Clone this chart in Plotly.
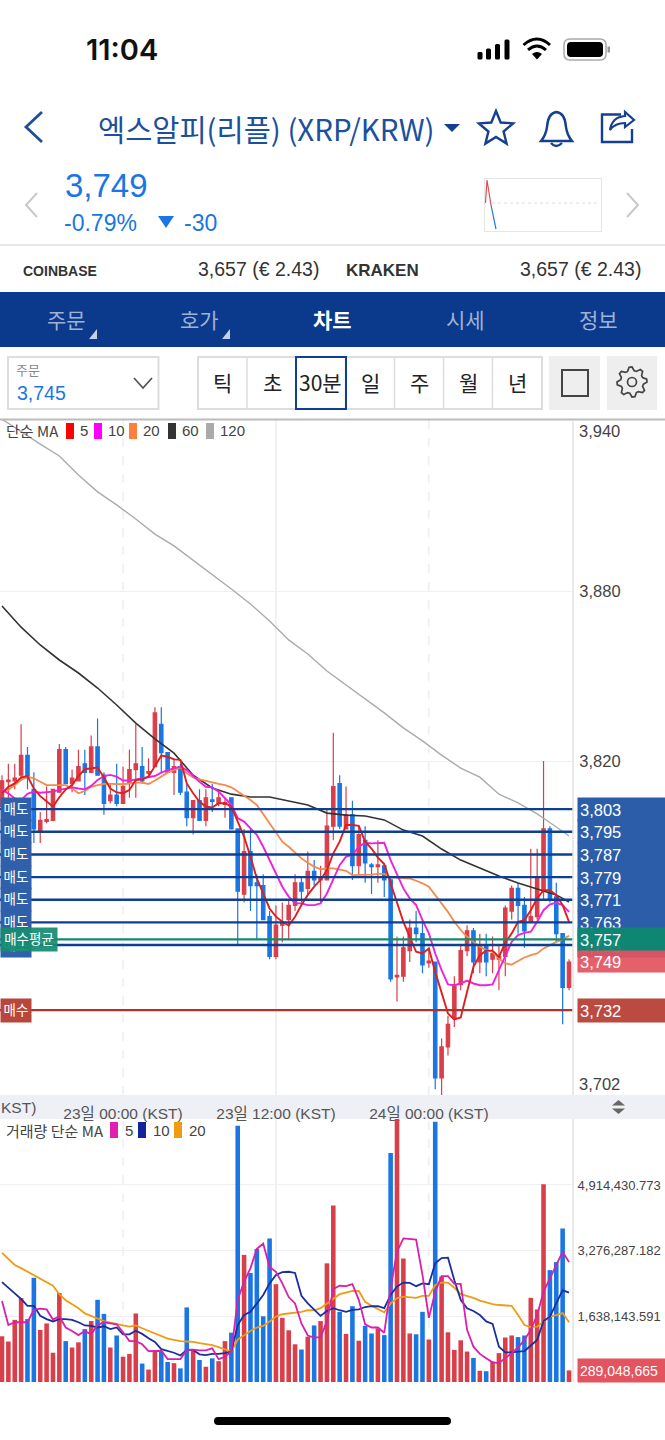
"""Upbit-style XRP/KRW mobile chart screen: 30 minute candles and volume."""

import numpy as np
import plotly.graph_objects as go

W, H = 665, 1440
PLOT_R = 573  # right edge of the plot panels, px
SANS = "Liberation Sans, Noto Sans CJK KR"
KR = "Noto Sans CJK KR, Liberation Sans"

RED = "#d93f4a"
BLUE = "#1a76e3"
NAVY = "#0f3f90"

# --- candles, one per 30 minutes ---
opens = [
    3804, 3812.7, 3813, 3815, 3822, 3810, 3795, 3798.7, 3799, 3809,
    3824, 3812, 3813, 3819, 3816, 3825, 3815, 3806, 3808, 3805,
    3812, 3817, 3818, 3815.7, 3818, 3833, 3823, 3816, 3818, 3809,
    3800, 3806, 3799, 3806.3, 3805, 3804.7, 3807, 3796, 3773, 3788,
    3777, 3776, 3765, 3751, 3762, 3764, 3769, 3777, 3775, 3781,
    3778, 3778, 3797, 3812, 3796, 3801, 3783, 3792, 3783.3, 3782.7,
    3783, 3778, 3743.7, 3744, 3753, 3761, 3759, 3748.7, 3749, 3708,
    3719, 3729, 3741, 3753, 3760, 3749, 3755, 3750, 3750, 3751,
    3767, 3775, 3769, 3763, 3765, 3774, 3796, 3772, 3759, 3740,
]
highs = [
    3815, 3819, 3819, 3833, 3825, 3816, 3802, 3811, 3810, 3826,
    3825, 3817, 3824, 3824, 3829, 3835, 3816, 3812, 3819, 3818,
    3824, 3833, 3825, 3821, 3839, 3839, 3823, 3821, 3819, 3812,
    3806, 3810, 3810, 3812, 3809, 3807, 3807, 3796, 3796, 3796,
    3780, 3780, 3767, 3769, 3770, 3771, 3780, 3779, 3788, 3785,
    3783, 3803, 3830, 3815, 3811, 3806, 3797, 3797, 3784, 3792,
    3784, 3779, 3758, 3758, 3764, 3767, 3764, 3754, 3749, 3722,
    3730, 3744, 3755, 3762, 3761, 3759, 3759, 3758, 3755, 3769,
    3776, 3777, 3772, 3789, 3789, 3820, 3797, 3777, 3759, 3750,
]
lows = [
    3804, 3807, 3810, 3813, 3810, 3791, 3791, 3798, 3799, 3809,
    3812, 3809, 3813, 3808, 3816, 3815, 3801, 3805, 3804, 3805,
    3807, 3807, 3812, 3814, 3818, 3816, 3816, 3808, 3808, 3797,
    3794, 3799, 3797, 3802, 3804, 3800, 3796, 3755, 3770, 3767,
    3757, 3764, 3750, 3750, 3756, 3757, 3767, 3770, 3773, 3776,
    3770, 3778, 3792, 3796, 3796, 3778, 3780, 3777, 3773, 3777,
    3772, 3742, 3735, 3742, 3749, 3756, 3745, 3747, 3704, 3702,
    3716, 3726, 3739, 3751, 3745, 3745, 3744, 3745, 3739, 3744,
    3764, 3759, 3754, 3763, 3764, 3771, 3770, 3756, 3727, 3739,
]
closes = [
    3813, 3813.3, 3814, 3822, 3814, 3796, 3799, 3799.3, 3810, 3824,
    3812, 3814, 3818, 3816, 3825, 3815, 3805, 3808, 3805, 3811,
    3817, 3819, 3813, 3816.3, 3837, 3823, 3816, 3818, 3809, 3800,
    3806, 3799, 3807, 3805.7, 3807, 3805.3, 3796, 3774, 3788, 3776,
    3776, 3764, 3751, 3762, 3763, 3769, 3777, 3774, 3781, 3778,
    3779, 3797, 3811, 3797, 3801, 3783, 3794, 3784, 3782.7, 3783.3,
    3778, 3743, 3744.3, 3754, 3761, 3759, 3748, 3749.3, 3708, 3719,
    3727, 3741, 3753, 3760, 3749, 3755, 3749, 3752, 3751, 3768,
    3775, 3769, 3760, 3765, 3779, 3796, 3771, 3759, 3740, 3749,
]

# --- price moving averages ---
ma5 = [
    3808.6, 3810.9, 3812.1, 3814.2, 3814.7, 3810.3, 3807.6, 3805.6, 3803.9, 3807.2,
    3810.0, 3811.5, 3814.7, 3817.1, 3817.4, 3817.7, 3814.2, 3810.3, 3808.9, 3808.6,
    3809.8, 3813.3, 3813.5, 3814.5, 3818.2, 3821.9, 3821.5, 3820.6, 3820.4, 3812.1,
    3808.6, 3805.6, 3803.9, 3803.6, 3805.1, 3805.1, 3803.9, 3798.6, 3793.3, 3786.2,
    3778.5, 3773.2, 3767.9, 3765.0, 3763.2, 3761.9, 3765.0, 3769.1, 3772.7, 3775.6,
    3778.0, 3781.5, 3787.4, 3791.5, 3797.4, 3797.4, 3797.1, 3791.5, 3789.1, 3785.9,
    3783.6, 3776.8, 3769.7, 3763.2, 3757.9, 3752.6, 3752.0, 3753.8, 3745.5, 3738.5,
    3730.8, 3728.7, 3729.4, 3738.5, 3747.3, 3751.4, 3753.0, 3753.0, 3750.8, 3755.8,
    3759.1, 3763.2, 3763.8, 3767.3, 3771.5, 3774.4, 3774.4, 3772.6, 3769.1, 3763.2,
]
ma10 = [
    3809.8, 3808.6, 3806.8, 3806.2, 3808.4, 3809.2, 3808.8, 3809.1, 3809.2, 3809.8,
    3810.3, 3810.7, 3810.3, 3810.0, 3811.2, 3813.3, 3814.7, 3815.1, 3814.5, 3813.1,
    3813.1, 3813.5, 3813.8, 3814.2, 3814.7, 3815.9, 3816.8, 3817.4, 3818.0, 3816.8,
    3814.7, 3812.7, 3810.9, 3810.7, 3809.2, 3806.8, 3804.5, 3799.8, 3798.6, 3796.2,
    3793.9, 3789.7, 3785.0, 3779.7, 3775.6, 3772.1, 3769.7, 3769.7, 3769.1, 3769.1,
    3769.7, 3773.2, 3777.9, 3783.2, 3786.2, 3786.8, 3789.7, 3791.1, 3790.9, 3791.1,
    3791.1, 3785.0, 3780.3, 3775.0, 3771.5, 3769.1, 3763.8, 3759.1, 3752.0, 3746.1,
    3741.1, 3740.8, 3741.4, 3742.4, 3741.4, 3740.8, 3740.8, 3741.1, 3746.1, 3750.8,
    3756.1, 3758.5, 3759.3, 3759.7, 3763.2, 3767.3, 3769.4, 3769.9, 3769.1, 3766.7,
]
ma20 = [
    3809.8, 3809.8, 3811.5, 3813.3, 3814.5, 3813.9, 3812.7, 3811.5, 3811.5, 3811.5,
    3811.5, 3810.3, 3808.6, 3809.4, 3810.9, 3811.5, 3811.9, 3811.9, 3811.9, 3811.8,
    3812.1, 3812.4, 3812.4, 3811.9, 3813.1, 3814.5, 3815.9, 3816.8, 3817.8, 3815.7,
    3814.2, 3813.5, 3813.1, 3812.5, 3811.9, 3811.5, 3810.7, 3809.2, 3808.0, 3806.2,
    3804.5, 3801.3, 3798.0, 3794.5, 3791.5, 3789.7, 3787.7, 3785.6, 3784.1, 3782.7,
    3781.7, 3782.1, 3782.1, 3781.7, 3781.2, 3779.7, 3779.7, 3779.7, 3779.9, 3780.1,
    3780.1, 3778.9, 3778.8, 3778.8, 3778.5, 3777.7, 3776.8, 3775.6, 3772.6, 3769.7,
    3766.7, 3763.2, 3760.3, 3757.9, 3756.1, 3754.4, 3753.2, 3752.6, 3750.2, 3748.5,
    3748.1, 3749.4, 3750.6, 3751.4, 3752.0, 3753.8, 3755.0, 3756.1, 3757.0, 3758.3,
]
# the long averages are read every third candle
long_ma_idx = list(range(0, 88, 3)) + [89]
ma60 = [
    3874.8, 3867.3, 3861.0, 3855.7, 3851.1, 3845.8, 3839.8, 3833.4, 3827.8, 3822.8,
    3815.0, 3810.5, 3808.3, 3807.3, 3807.3, 3805.9, 3804.5, 3801.6, 3800.9, 3800.6,
    3799.2, 3795.6, 3793.5, 3788.9, 3785.0, 3782.2, 3779.4, 3776.9, 3774.8, 3772.7,
    3770.2,
]
ma120 = [
    3940.8, 3936.3, 3932.0, 3927.8, 3921.1, 3915.1, 3910.5, 3905.5, 3900.2, 3896.0,
    3891.0, 3886.1, 3880.8, 3875.5, 3869.5, 3862.8, 3857.8, 3851.8, 3846.9, 3841.9,
    3837.0, 3831.7, 3827.1, 3822.1, 3817.5, 3814.3, 3808.3, 3805.2, 3801.3, 3796.7,
    3793.5,
]

# --- volume, billions ---
volume = [
    1.14, 1.01, 1.55, 2.09, 1.57, 2.60, 1.30, 1.46, 0.73, 2.22,
    1.02, 0.86, 0.99, 1.32, 1.52, 2.05, 1.70, 0.86, 1.16, 0.63,
    0.70, 1.71, 0.46, 0.31, 0.77, 0.76, 0.50, 0.47, 0.34, 1.86,
    0.80, 0.55, 0.38, 0.59, 0.52, 1.02, 1.23, 6.39, 3.17, 2.72,
    3.32, 1.64, 3.58, 2.44, 1.60, 1.29, 0.94, 0.81, 1.13, 1.41,
    1.52, 2.96, 4.40, 1.75, 1.20, 1.89, 1.03, 1.40, 1.21, 1.34,
    1.17, 5.71, 6.80, 3.08, 1.21, 1.19, 1.75, 1.06, 6.49, 2.63,
    1.24, 0.80, 1.04, 0.76, 0.60, 0.28, 0.27, 0.51, 0.72, 1.11,
    1.16, 1.12, 1.16, 2.10, 1.81, 4.93, 2.79, 2.99, 3.83, 0.289,
]
vol_up = [
    1, 1, 1, 1, 0, 0, 1, 1, 1, 1,
    0, 1, 1, 0, 1, 0, 0, 1, 0, 1,
    1, 1, 0, 1, 1, 0, 0, 1, 0, 0,
    1, 0, 1, 0, 1, 1, 0, 0, 1, 0,
    0, 0, 0, 1, 1, 1, 1, 0, 1, 0,
    1, 1, 1, 0, 1, 0, 1, 0, 0, 1,
    0, 0, 1, 1, 1, 0, 0, 1, 0, 1,
    1, 1, 1, 1, 0, 1, 0, 1, 1, 1,
    1, 0, 0, 1, 1, 1, 0, 0, 0, 1,
]
vol_ma5 = [
    2.02, 1.42, 1.49, 1.49, 1.49, 1.80, 1.83, 1.81, 1.56, 1.64,
    1.36, 1.27, 1.17, 1.27, 1.19, 1.42, 1.49, 1.46, 1.44, 1.24,
    1.02, 1.02, 0.94, 0.77, 0.78, 0.78, 0.57, 0.57, 0.57, 0.80,
    0.81, 0.79, 0.79, 0.84, 0.57, 0.63, 0.76, 2.05, 2.50, 2.84,
    3.32, 3.45, 2.87, 2.75, 2.46, 2.12, 1.96, 1.46, 1.16, 1.11,
    1.12, 1.51, 2.32, 2.40, 2.39, 2.44, 2.05, 1.44, 1.36, 1.36,
    1.23, 2.34, 3.25, 3.58, 3.56, 3.55, 2.67, 1.60, 2.25, 2.64,
    2.64, 2.45, 2.45, 1.30, 0.88, 0.70, 0.59, 0.49, 0.47, 0.59,
    0.72, 0.86, 1.05, 1.30, 1.67, 2.25, 2.59, 2.92, 3.25, 2.99,
]
vol_ma10 = [
    2.49, 2.34, 2.21, 2.07, 1.90, 1.90, 1.65, 1.57, 1.51, 1.57,
    1.57, 1.55, 1.49, 1.41, 1.40, 1.36, 1.39, 1.32, 1.36, 1.19,
    1.19, 1.28, 1.20, 1.09, 1.00, 0.82, 0.77, 0.73, 0.66, 0.80,
    0.80, 0.69, 0.67, 0.70, 0.70, 0.72, 0.76, 1.42, 1.67, 1.75,
    1.96, 2.17, 2.46, 2.67, 2.74, 2.75, 2.72, 2.15, 1.96, 1.80,
    1.65, 1.77, 1.84, 1.79, 1.75, 1.80, 1.81, 1.87, 1.89, 1.89,
    1.84, 2.17, 2.38, 2.48, 2.47, 2.39, 2.46, 2.44, 2.96, 3.09,
    3.10, 2.54, 2.05, 1.84, 1.77, 1.67, 1.51, 1.45, 0.88, 0.74,
    0.74, 0.76, 0.77, 0.91, 1.05, 1.52, 1.63, 1.96, 2.29, 2.23,
]
vol_ma20 = [
    3.22, 3.07, 2.92, 2.84, 2.75, 2.67, 2.57, 2.48, 2.40, 2.19,
    2.04, 1.94, 1.84, 1.71, 1.64, 1.59, 1.52, 1.48, 1.44, 1.41,
    1.38, 1.41, 1.34, 1.27, 1.22, 1.13, 1.08, 1.05, 1.02, 1.01,
    1.00, 0.97, 0.95, 0.92, 0.87, 0.82, 0.76, 1.06, 1.17, 1.27,
    1.36, 1.40, 1.51, 1.63, 1.69, 1.71, 1.74, 1.75, 1.79, 1.79,
    1.84, 1.96, 2.09, 2.19, 2.23, 2.27, 2.27, 2.00, 1.90, 1.82,
    1.74, 1.96, 2.09, 2.13, 2.12, 2.10, 2.15, 2.15, 2.42, 2.48,
    2.48, 2.35, 2.19, 2.14, 2.10, 2.03, 1.99, 1.94, 1.92, 1.91,
    1.90, 1.67, 1.42, 1.37, 1.38, 1.51, 1.63, 1.67, 1.72, 1.49,
]

# --- axes and order lines ---
time_ticks = [19, 43, 67]
time_labels = ["23일 00:00 (KST)", "23일 12:00 (KST)", "24일 00:00 (KST)"]
price_ticks = [3880, 3820]
vol_ticks = [1.638143591, 3.276287182, 4.914430773]
vol_labels = ["1,638,143.591", "3,276,287.182", "4,914,430.773"]
sell_orders = [3803, 3795, 3787, 3779, 3771, 3763, 3755]
avg_buy = 3757
buy_order = 3732
last_price = 3749

x = list(range(len(closes)))
# one candle is 6.371 px wide, candle 0 sits at px 2
x_range = [-2 / 6.371, (PLOT_R - 2) / 6.371]

fig = go.Figure()

fig.add_trace(
    go.Candlestick(
        x=x, open=opens, high=highs, low=lows, close=closes,
        increasing=dict(line=dict(color=RED, width=1.2), fillcolor=RED),
        decreasing=dict(line=dict(color=BLUE, width=1.2), fillcolor=BLUE),
        whiskerwidth=0,
        xaxis="x", yaxis="y",
    )
)
for values, idx, color, lw in [
    (ma120, long_ma_idx, "#ababab", 1.4),
    (ma60, long_ma_idx, "#333333", 1.6),
    (ma20, x, "#f58a4a", 1.8),
    (ma10, x, "#ee22dd", 1.9),
    (ma5, x, "#e01e1e", 1.9),
]:
    fig.add_trace(
        go.Scatter(x=idx, y=values, mode="lines", line=dict(color=color, width=lw),
                   xaxis="x", yaxis="y")
    )

fig.add_trace(
    go.Bar(x=x, y=volume, width=0.72,
           marker=dict(color=[RED if up else BLUE for up in vol_up], line_width=0),
           xaxis="x2", yaxis="y2")
)
for values, color in [(vol_ma20, "#ee9c12"), (vol_ma10, "#1a2f9f"), (vol_ma5, "#d81fb0")]:
    fig.add_trace(
        go.Scatter(x=x, y=values, mode="lines", line=dict(color=color, width=1.8),
                   xaxis="x2", yaxis="y2")
    )

shapes = []
annotations = []


def px_path(path):
    """Turn an SVG path in screen pixels into paper coordinates."""
    out, is_x = [], True
    for tok in path.split():
        if tok.isalpha():
            out.append(tok)
            continue
        out.append(f"{float(tok) / W:.5f}" if is_x else f"{1 - float(tok) / H:.5f}")
        is_x = not is_x
    return " ".join(out)


def path(d, stroke=None, width=2, fill=None, layer="above"):
    shapes.append(dict(type="path", xref="paper", yref="paper", path=px_path(d), layer=layer,
                       line=dict(color=stroke or "rgba(0,0,0,0)", width=width if stroke else 0),
                       fillcolor=fill or "rgba(0,0,0,0)"))


def rect(x0, y0, x1, y1, fill=None, stroke=None, width=1, layer="above", kind="rect"):
    shapes.append(dict(type=kind, xref="paper", yref="paper", layer=layer,
                       x0=x0 / W, x1=x1 / W, y0=1 - y0 / H, y1=1 - y1 / H,
                       line=dict(color=stroke or "rgba(0,0,0,0)", width=width if stroke else 0),
                       fillcolor=fill or "rgba(0,0,0,0)"))


def pill(x0, y0, x1, y1, r, fill=None, stroke=None, width=1):
    """Rectangle with rounded corners."""
    d = (f"M {x0 + r} {y0} L {x1 - r} {y0} Q {x1} {y0} {x1} {y0 + r} L {x1} {y1 - r} "
         f"Q {x1} {y1} {x1 - r} {y1} L {x0 + r} {y1} Q {x0} {y1} {x0} {y1 - r} "
         f"L {x0} {y0 + r} Q {x0} {y0} {x0 + r} {y0} Z")
    path(d, stroke, width, fill)


def text(x_px, y_px, s, size=14, color="#333333", anchor="left", family=SANS, weight=None):
    annotations.append(dict(xref="paper", yref="paper", x=x_px / W, y=1 - y_px / H, text=s,
                            showarrow=False, xanchor=anchor, yanchor="middle", borderpad=0,
                            font=dict(size=size, color=color, family=family, weight=weight)))


def tag(x_px, price, s, width, fill, size=16.5, align="left", height=19):
    annotations.append(dict(xref="paper", yref="y", x=x_px / W, y=price, text=s, showarrow=False,
                            xanchor="left", yanchor="middle", width=width, height=height,
                            borderpad=2, align=align, bgcolor=fill,
                            font=dict(size=size, color="white", family=SANS)))


# gridlines through both panels, 12h apart
for tick, dash in zip(time_ticks, ["dash", "solid", "dash"]):
    for yref in ["y domain", "y2 domain"]:
        shapes.append(dict(type="line", xref="x", yref=yref, x0=tick, x1=tick, y0=0, y1=1,
                           layer="below", line=dict(color="#e9ebf2", width=1.3, dash=dash)))

# order lines, above the candles
for price in sell_orders:
    shapes.append(dict(type="line", xref="x domain", yref="y", x0=0, x1=1, y0=price, y1=price,
                       line=dict(color=NAVY, width=2.4)))
shapes.append(dict(type="line", xref="x domain", yref="y", x0=0, x1=1, y0=avg_buy, y1=avg_buy,
                   line=dict(color="#16896c", width=2.4)))
shapes.append(dict(type="line", xref="x domain", yref="y", x0=0, x1=1, y0=buy_order, y1=buy_order,
                   line=dict(color="#b5302c", width=2.4)))

# right side price tags, later ones cover earlier ones
for price in sell_orders:
    tag(577, price, f"{price:,}", 84, "#2b5da8")
tag(577, avg_buy, f"{avg_buy:,}", 84, "rgba(13,136,112,0.95)")
tag(577, last_price, f"{last_price:,}", 84, "rgba(226,84,96,0.93)", height=17)
tag(577, buy_order, f"{buy_order:,}", 84, "#bb4a41")
annotations.append(dict(xref="paper", yref="y2", x=577 / W, y=volume[-1], text="289,048,665",
                        showarrow=False, xanchor="left", yanchor="middle", width=84, height=19,
                        borderpad=2, align="left", bgcolor="#e2545f",
                        font=dict(size=14, color="white", family=SANS)))

# left side tags
for price in sell_orders:
    tag(0, price, "매도", 26, "#2f60a9", size=13.5, align="center")
tag(0, avg_buy, "매수평균", 52, "rgba(22,140,112,0.93)", size=13.5, align="center")
tag(0, buy_order, "매수", 26, "#b9463c", size=13.5, align="center")

# price labels pinned at the top and bottom of the axis
for price, dy in [(3940, 10), (3702, -11)]:
    annotations.append(dict(xref="paper", yref="y", x=578 / W, y=price, yshift=-dy, text=f"{price:,}",
                            showarrow=False, xanchor="left", yanchor="middle", borderpad=0,
                            font=dict(size=16.5, color="#444444", family=SANS)))

# status bar
text(85, 50, "11:04", 29, "#111111", family="Inter", weight=600)
for x0, y0 in [(477.5, 52), (486, 48.5), (495, 44), (504.5, 39.5)]:
    pill(x0, y0, x0 + 5, 59.5, 1.5, fill="#000000")
path("M 523.5 45 Q 537 33 550 45", "#000000", 3)
path("M 528 50 Q 537 42 546 50", "#000000", 3)
path("M 532 54 L 537 59.5 L 542 54 Q 537 50 532 54 Z", fill="#000000")
pill(564, 39, 606, 60, 6, stroke="#aaaaaa", width=1.5)
pill(567, 42, 603, 57, 4, fill="#000000")
rect(607.5, 46.5, 610, 52.5, fill="#999999")

# title row
path("M 42 112 L 26 127 L 42 142", "#1c4f9e", 2.8)
text(97, 128, "엑스알피(리플) (XRP/KRW)", 29.5, "#1c4f9e", family=KR)
path("M 444 124 L 460 124 L 452 132 Z", fill="#15408f")
angles = np.deg2rad(np.arange(-90, 270, 36))
radii = np.where(np.arange(10) % 2 == 0, 18, 8)
star = [(496 + r * np.cos(a), 129 + r * np.sin(a)) for r, a in zip(radii, angles)]
path("M " + " L ".join(f"{px:.1f} {py:.1f}" for px, py in star) + " Z", "#15408f", 2.4)
path("M 541 141 L 572 141 Q 567 135 566 127 Q 565 113 556.5 112 Q 548 113 547 127 Q 546 135 541 141 Z",
     "#15408f", 2.4)
path("M 551 143 Q 556 149 562 143", "#15408f", 2.4)
path("M 621 114.5 L 602 114.5 L 602 142 L 632 142 L 632 129", "#15408f", 2.4)
path("M 610 130 Q 612 117 625 116 L 625 112 L 634 120 L 625 127 L 625 123 Q 615 123 610 130 Z",
     "#15408f", 2.2)

# price block
text(64, 186, "3,749", 33, "#1a76e3")
text(63, 223, "-0.79%", 23, "#1a76e3")
path("M 158 216 L 174 216 L 166 228 Z", fill="#1a76e3")
text(183, 223, "-30", 23, "#1a76e3")
path("M 37 193 L 26 205 L 37 217", "#c8c8c8", 2)
path("M 627 193 L 638 205 L 627 217", "#c8c8c8", 2)
rect(484.5, 178.5, 601.5, 231.5, stroke="#e6e6e6", width=1.2)
path("M 492 203 L 598 203", "#dcdcdc", 1)
shapes[-1]["line"]["dash"] = "dot"
path("M 485.5 203 L 487 180 L 491 205", "#d9505a", 1.2)
path("M 491 205 L 496 229", "#1a76e3", 1.2)
rect(0, 244, W, 246, fill="#e8e8e8")

# exchange row
text(22, 271, "COINBASE", 14, "#333333", weight=700)
text(320, 269, "3,657 (€ 2.43)", 19.5, "#333333", anchor="right")
text(345, 270, "KRAKEN", 17, "#333333", weight=700)
text(642, 269, "3,657 (€ 2.43)", 19.5, "#333333", anchor="right")

# tab bar
rect(0, 292, W, 347, fill="#0b3a8c")
for cx, label in [(66, "주문"), (199, "호가"), (465, "시세"), (598, "정보")]:
    text(cx, 319, label, 21, "#9fb2d4", anchor="center", family=KR)
text(332, 319, "차트", 21, "#ffffff", anchor="center", family=KR, weight=700)
path("M 97 329 L 97 339 L 89 339 Z", fill="#c4d0e6")
path("M 230 329 L 230 339 L 222 339 Z", fill="#c4d0e6")

# order type and period selector
rect(8, 357, 158.5, 409, stroke="#dddddd", width=2)
text(15, 370, "주문", 13, "#888888", family=KR)
text(16, 393, "3,745", 19.5, "#1a76e3")
path("M 134 378 L 143 388 L 152 378", "#555555", 1.8)
rect(198, 357, 542, 409, stroke="#dddddd", width=2)
for sep in [247, 345.5, 394.5, 443.5, 492.5]:
    rect(sep, 357, sep, 409, stroke="#dddddd", width=1.5)
for cx, label in [(222, "틱"), (272, "초"), (320.5, "30분"), (370, "일"), (419, "주"), (468, "월"), (517, "년")]:
    text(cx, 382, label, 21, "#222222", anchor="center", family=KR)
rect(296, 357, 346, 409, stroke=NAVY, width=2)
rect(549, 356, 600, 410, fill="#eeeeee")
rect(562, 370, 588, 396, stroke="#444444", width=2)
rect(607, 356, 657, 410, fill="#eeeeee")
theta = np.deg2rad(np.arange(0, 360, 11.25))
gear_r = np.where((np.arange(32) + 1) % 4 < 2, 15, 11.5)
gear = [(632 + r * np.cos(a), 382 + r * np.sin(a)) for r, a in zip(gear_r, theta)]
path("M " + " L ".join(f"{px:.1f} {py:.1f}" for px, py in gear) + " Z", "#444444", 1.7)
rect(627.5, 377.5, 636.5, 386.5, stroke="#444444", width=1.7, kind="circle")
rect(0, 418.5, W, 420.5, fill="#bbbbbb")

# price legend
text(5, 431, "단순 MA", 15, "#444444", family=KR)
for x0, color, label in [
    (66, "#ff0000", "5"), (94, "#ff00ff", "10"), (129, "#ff7f3f", "20"),
    (168, "#333333", "60"), (206, "#aaaaaa", "120"),
]:
    rect(x0, 423, x0 + 8, 439, fill=color)
    text(x0 + 13, 431, label, 15, "#444444")

# time axis band
rect(0, 1095, W, 1119, fill="#eef0f5", layer="below")
text(0, 1107, "KST)", 15.5, "#555555")
path("M 612 1105.5 L 625 1105.5 L 618.5 1100 Z", fill="#666666")
path("M 612 1108.5 L 625 1108.5 L 618.5 1114 Z", fill="#666666")

# volume legend
text(5, 1130, "거래량 단순 MA", 15, "#444444", family=KR)
for x0, color, label in [(110, "#e020b0", "5"), (138, "#14249a", "10"), (174, "#ee9c12", "20")]:
    rect(x0, 1122, x0 + 8, 1138, fill=color)
    text(x0 + 14, 1130, label, 15, "#444444")

# divider right of the plots and home indicator
rect(PLOT_R, 420, PLOT_R, 1095, stroke="#e2e2e2", width=1.5)
rect(PLOT_R, 1119, PLOT_R, 1382, stroke="#e2e2e2", width=1.5)
pill(214, 1417, 451, 1425, 4, fill="#000000")

grid = "#eef0f5"
fig.update_layout(
    width=W,
    height=H,
    margin=dict(l=0, r=0, t=0, b=0),
    paper_bgcolor="white",
    plot_bgcolor="rgba(0,0,0,0)",
    showlegend=False,
    boxgap=0.24,
    bargap=0.28,
    shapes=shapes,
    annotations=annotations,
    xaxis=dict(
        domain=[0, PLOT_R / W], range=x_range, anchor="y",
        rangeslider=dict(visible=False), showgrid=False, zeroline=False,
        tickmode="array", tickvals=time_ticks, ticktext=time_labels,
        ticks="outside", ticklen=4, tickcolor="rgba(0,0,0,0)",
        tickfont=dict(size=15.5, color="#555555", family=SANS),
    ),
    yaxis=dict(
        domain=[1 - 1095 / H, 1 - 420 / H], range=[3702, 3940.5], side="right", anchor="x",
        tickmode="array", tickvals=price_ticks, ticktext=[f"{p:,}" for p in price_ticks],
        ticks="outside", ticklen=2, tickcolor="rgba(0,0,0,0)",
        showgrid=True, gridcolor=grid, gridwidth=1.3, zeroline=False,
        tickfont=dict(size=16.5, color="#444444", family=SANS),
    ),
    xaxis2=dict(
        domain=[0, PLOT_R / W], range=x_range, anchor="y2",
        showgrid=False, zeroline=False, showticklabels=False, ticks="",
    ),
    yaxis2=dict(
        domain=[1 - 1382 / H, 1 - 1119 / H], range=[0, 6.56], side="right", anchor="x2",
        tickmode="array", tickvals=vol_ticks, ticktext=vol_labels,
        ticks="outside", ticklen=1, tickcolor="rgba(0,0,0,0)",
        showgrid=True, gridcolor=grid, gridwidth=1.3, zeroline=False,
        tickfont=dict(size=13, color="#444444", family=SANS),
    ),
)

# the page body has a default margin, the screen starts at 0,0
fig.write_html(
    "out.html",
    config={"displayModeBar": False},
    post_script="document.body.style.margin = '0';",
)
